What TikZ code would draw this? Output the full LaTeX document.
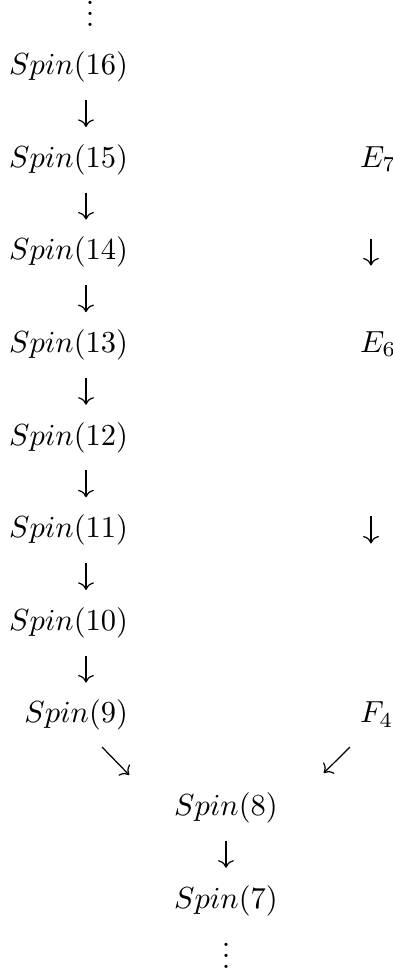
\documentclass[tikz,border=0pt]{standalone}
\usetikzlibrary{arrows.meta,calc}
\newcommand\tightvdots{\vbox{\baselineskip3.6pt \lineskiplimit0pt \hbox{.}\hbox{.}\hbox{.}}}
\begin{document}
\begin{tikzpicture}[x=0.328pt,y=-0.328pt,
  lbl/.style={inner sep=0pt, outer sep=0pt},
  lft/.style={lbl, anchor=base east},
  ctr/.style={lbl, anchor=base},
  rgt/.style={lbl, anchor=base west},
  arr/.style={-{To}, line width=0.4pt},
  larr/.style={arr, shorten <=8.33pt, shorten >=13.2pt},
  rarrA/.style={arr, shorten <=23.4pt, shorten >=28.5pt},
  rarrB/.style={arr, shorten <=53.8pt, shorten >=58.8pt}]
\useasboundingbox (0,0) rectangle (392,975);
% top dots
\node[ctr] (vt) at (90,26.5) {\tightvdots};
% left column
\node[lft] (s16) at (128,74.6) {$Spin(16)$};
\node[lft] (s15) at (128,167.2) {$Spin(15)$};
\node[lft] (s14) at (128,259.8) {$Spin(14)$};
\node[lft] (s13) at (128,352.4) {$Spin(13)$};
\node[lft] (s12) at (128,445.0) {$Spin(12)$};
\node[lft] (s11) at (128,537.6) {$Spin(11)$};
\node[lft] (s10) at (128,630.2) {$Spin(10)$};
\node[lft] (s9) at (128,722.8) {$Spin(9)$};
% bottom
\node[ctr] (s8) at (226,815.4) {$Spin(8)$};
\node[ctr] (s7) at (226,908.0) {$Spin(7)$};
\node[ctr] (vb) at (226,968) {\tightvdots};
% right column
\node[rgt] (e7) at (360,167.2) {$E_7$};
\node[rgt] (e6) at (360,352.4) {$E_6$};
\node[rgt] (f4) at (360,722.8) {$F_4$};
% left arrows
\foreach \a/\b in {s16/s15,s15/s14,s14/s13,s13/s12,s12/s11,s11/s10,s10/s9}
  \draw[larr] ([xshift=-13.78pt]\a.base east) -- ([xshift=-13.78pt]\b.base east);
\draw[larr] (s8.base) -- (s7.base);
% right arrows
\draw[rarrA] ([xshift=3.6pt]e7.base west) -- ([xshift=3.6pt]e6.base west);
\draw[rarrB] ([xshift=3.6pt]e6.base west) -- ([xshift=3.6pt]f4.base west);
% diagonal arrows
\draw[arr] ($(s9.base east)+(-26,24.2)$) -- ($(s8.base west)+(-45,-40.4)$);
\draw[arr] ($(f4.base west)+(-10,24.2)$) -- ($(s8.base east)+(46,-42.4)$);
\end{tikzpicture}
\end{document}
